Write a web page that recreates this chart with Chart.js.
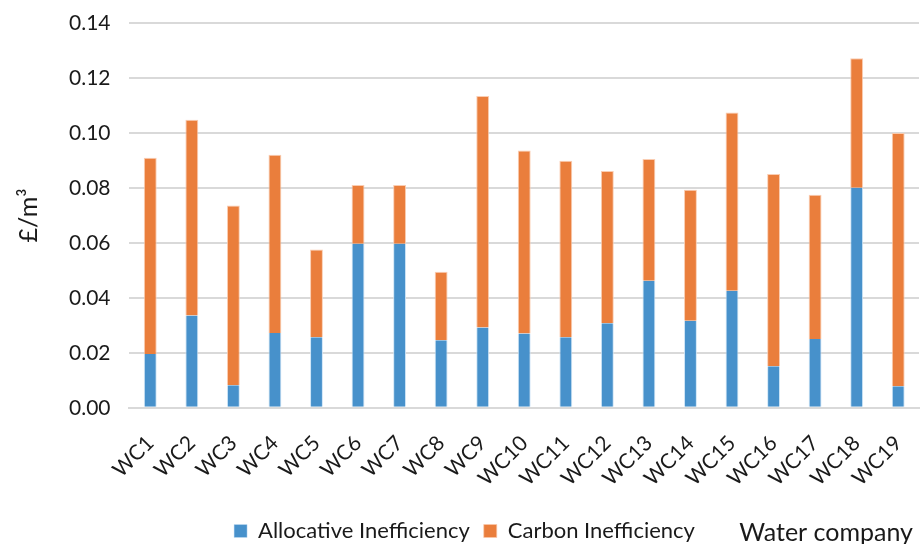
<!DOCTYPE html>
<html>
<head>
<meta charset="utf-8">
<script src="https://cdn.jsdelivr.net/npm/chart.js@4.4.0/dist/chart.umd.min.js"></script>
<style>
  html, body { margin: 0; padding: 0; background: #fff; }
  #wrap { width: 923px; height: 544px; position: relative; }
</style>
</head>
<body>
<div id="wrap"><canvas id="costChart"></canvas></div>
<script>
// Water companies and the two cost components (£/m³)
const companies = ['WC1', 'WC2', 'WC3', 'WC4', 'WC5', 'WC6', 'WC7', 'WC8', 'WC9', 'WC10',
                   'WC11', 'WC12', 'WC13', 'WC14', 'WC15', 'WC16', 'WC17', 'WC18', 'WC19'];
const allocative = [0.0196, 0.0336, 0.0082, 0.0272, 0.0257, 0.0597, 0.0597, 0.0246, 0.0292, 0.0270,
                    0.0257, 0.0308, 0.0462, 0.0317, 0.0426, 0.0151, 0.0250, 0.0801, 0.0078];
const carbon = [0.0714, 0.0712, 0.0654, 0.0649, 0.0319, 0.0214, 0.0214, 0.0249, 0.0842, 0.0666,
                0.0642, 0.0554, 0.0443, 0.0476, 0.0648, 0.0700, 0.0525, 0.0471, 0.0922];
const yTicks = { min: 0, max: 0.14, step: 0.02 };

const fontFamily = 'Lato, "Open Sans", sans-serif';
const textColor = '#1a1a1a';

// x-axis title sits on the legend row, to the right
const axisNameOnLegendRow = {
    id: 'axisNameOnLegendRow',
    afterDraw(chart) {
        const lg = chart.legend;
        const ctx = chart.ctx;
        ctx.save();
        ctx.font = '25px ' + fontFamily;
        ctx.fillStyle = textColor;
        ctx.textAlign = 'right';
        ctx.textBaseline = 'middle';
        ctx.fillText('Water company', chart.width - 10, lg.top + lg.height / 2 + 4);
        ctx.restore();
    }
};

const ctx = document.getElementById('costChart').getContext('2d');
new Chart(ctx, {
    type: 'bar',
    data: {
        labels: companies,
        datasets: [
            {
                label: 'Allocative Inefficiency',
                data: allocative,
                backgroundColor: '#4791cb',
                borderColor: 'rgba(200,225,245,0.9)',
                borderWidth: { left: 1, right: 1, top: 0, bottom: 0 }
            },
            {
                label: 'Carbon Inefficiency',
                data: carbon,
                backgroundColor: '#ea7e3c',
                borderColor: 'rgba(250,200,170,0.9)',
                borderWidth: { left: 1, right: 1, top: 1, bottom: 0 }
            }
        ]
    },
    options: {
        responsive: true,
        maintainAspectRatio: false,
        animation: false,
        layout: { padding: { top: 23, right: 4, left: 10, bottom: -8 } },
        datasets: {
            bar: { categoryPercentage: 1, barPercentage: 0.31 }
        },
        scales: {
            x: {
                stacked: true,
                afterFit: s => { s.paddingRight = 0; },
                grid: { display: false },
                border: { color: '#d9d9d9', width: 2 },
                ticks: {
                    color: textColor,
                    font: { family: fontFamily, size: 21 },
                    minRotation: 45,
                    maxRotation: 45,
                    padding: 15
                }
            },
            y: {
                stacked: true,
                min: yTicks.min,
                max: yTicks.max,
                afterFit: s => { s.paddingTop = 0; },
                grid: { color: '#d9d9d9', lineWidth: 2, drawTicks: false },
                border: { display: false },
                ticks: {
                    stepSize: yTicks.step,
                    color: textColor,
                    padding: 19,
                    font: { family: fontFamily, size: 21 },
                    callback: v => v.toFixed(2)
                },
                title: {
                    display: true,
                    text: '£/m³',
                    color: textColor,
                    font: { family: fontFamily, size: 25 },
                    padding: { bottom: 6 }
                }
            }
        },
        plugins: {
            legend: {
                position: 'bottom',
                labels: {
                    boxWidth: 13,
                    boxHeight: 13,
                    color: textColor,
                    font: { family: fontFamily, size: 22 },
                    padding: 14
                }
            },
            tooltip: { mode: 'index', intersect: false }
        }
    },
    plugins: [axisNameOnLegendRow]
});
</script>
</body>
</html>
